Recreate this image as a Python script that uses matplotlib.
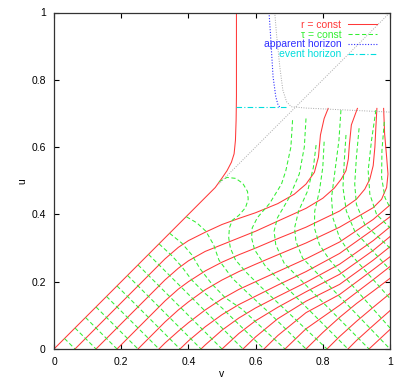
import matplotlib
matplotlib.use("Agg")
import matplotlib.pyplot as plt

# r = const curves, digitised (v, u) points, one list per curve
RED_V = [
    [0.0, 0.48, 0.50, 0.515, 0.528, 0.536, 0.540, 0.542, 0.543, 0.543],
    [0.0625, 0.33, 0.37, 0.40, 0.45, 0.50, 0.55, 0.60, 0.666, 0.715, 0.75, 0.775, 0.787, 0.793, 0.804, 0.816],
    [0.125, 0.33, 0.37, 0.40, 0.45, 0.50, 0.55, 0.60, 0.666, 0.75, 0.80, 0.834, 0.855, 0.869, 0.876, 0.879, 0.885, 0.903],
    [0.1875, 0.33, 0.37, 0.40, 0.45, 0.50, 0.55, 0.60, 0.666, 0.75, 0.85, 0.90, 0.925, 0.94, 0.95, 0.955, 0.958, 0.961],
    [0.25, 0.33, 0.37, 0.40, 0.45, 0.50, 0.55, 0.60, 0.666, 0.75, 0.85, 0.95, 0.975, 0.99, 0.994, 0.99, 0.984, 0.981],
    [0.3125, 0.33, 0.37, 0.40, 0.45, 0.50, 0.55, 0.60, 0.666, 0.75, 0.85, 0.95, 1.0],
    [0.375, 0.40, 0.45, 0.50, 0.55, 0.60, 0.666, 0.75, 0.85, 0.95, 1.0],
    [0.4375, 0.45, 0.50, 0.55, 0.60, 0.666, 0.75, 0.85, 0.95, 1.0],
    [0.5, 0.55, 0.60, 0.666, 0.75, 0.85, 0.95, 1.0],
    [0.5625, 0.60, 0.666, 0.75, 0.85, 0.95, 1.0],
    [0.625, 0.666, 0.75, 0.85, 0.95, 1.0],
    [0.6875, 0.75, 0.85, 0.95, 1.0],
    [0.75, 0.80, 0.85, 0.90, 0.95, 1.0],
    [0.8125, 0.85, 0.90, 0.95, 1.0],
    [0.875, 0.90, 0.95, 1.0],
    [0.9375, 1.0],
]
RED_U = [
    [0.0, 0.48, 0.508, 0.53, 0.555, 0.58, 0.62, 0.68, 0.75, 1.0],
    [0.0, 0.2675, 0.302, 0.322, 0.347, 0.37, 0.388, 0.405, 0.432, 0.46, 0.49, 0.525, 0.57, 0.636, 0.685, 0.715],
    [0.0, 0.205, 0.24, 0.262, 0.29, 0.31, 0.33, 0.35, 0.38, 0.418, 0.448, 0.478, 0.505, 0.53, 0.565, 0.606, 0.666, 0.715],
    [0.0, 0.1425, 0.178, 0.2, 0.232, 0.258, 0.28, 0.30, 0.328, 0.362, 0.41, 0.445, 0.475, 0.505, 0.545, 0.60, 0.66, 0.715],
    [0.0, 0.08, 0.116, 0.14, 0.176, 0.205, 0.23, 0.252, 0.28, 0.315, 0.362, 0.42, 0.445, 0.48, 0.52, 0.57, 0.64, 0.715],
    [0.0, 0.0175, 0.053, 0.078, 0.116, 0.149, 0.177, 0.2, 0.23, 0.268, 0.318, 0.385, 0.428],
    [0.0, 0.024, 0.066, 0.102, 0.132, 0.157, 0.19, 0.23, 0.284, 0.355, 0.393],
    [0.0, 0.012, 0.056, 0.092, 0.122, 0.156, 0.198, 0.252, 0.322, 0.363],
    [0.0, 0.046, 0.084, 0.124, 0.17, 0.222, 0.293, 0.334],
    [0.0, 0.036, 0.09, 0.142, 0.192, 0.264, 0.304],
    [0.0, 0.04, 0.108, 0.162, 0.236, 0.274],
    [0.0, 0.06, 0.13, 0.206, 0.245],
    [0.0, 0.049, 0.094, 0.135, 0.172, 0.21],
    [0.0, 0.037, 0.082, 0.124, 0.165],
    [0.0, 0.025, 0.07, 0.114],
    [0.0, 0.058],
]

# tau = const curves, digitised (v, u) points
GREEN_V = [
    [0.03125, 0.0625], [0.0625, 0.125], [0.09375, 0.1875], [0.125, 0.25],
    [0.15625, 0.3125], [0.1875, 0.375], [0.21875, 0.4375], [0.25, 0.5],
    [0.28125, 0.5625],
    [0.3125, 0.35, 0.38, 0.41, 0.45, 0.50, 0.625],
    [0.344, 0.38, 0.41, 0.435, 0.47, 0.51, 0.56, 0.6875],
    [0.394, 0.425, 0.452, 0.475, 0.491, 0.531, 0.575, 0.64, 0.75],
    [0.491, 0.515, 0.541, 0.562, 0.576, 0.578, 0.57, 0.55, 0.531, 0.522, 0.52, 0.525, 0.54, 0.57, 0.61, 0.8125],
    [0.71, 0.705, 0.69, 0.677, 0.642, 0.605, 0.59, 0.588, 0.597, 0.63, 0.875],
    [0.75, 0.745, 0.73, 0.70, 0.665, 0.655, 0.66, 0.685, 0.9375],
    [0.78, 0.772, 0.755, 0.728, 0.716, 0.72, 0.74, 1.0],
    [0.804, 0.80, 0.79, 0.776, 0.775, 0.79, 0.82, 1.0],
    [0.854, 0.848, 0.835, 0.826, 0.83, 0.85, 0.88, 1.0],
    [0.869, 0.864, 0.86, 0.87, 0.895, 1.0],
    [0.908, 0.90, 0.895, 0.90, 0.925, 1.0],
    [0.958, 0.945, 0.935, 0.94, 0.96, 1.0],
    [0.983, 0.976, 0.975, 0.985, 1.0],
]
GREEN_U = [
    [0.03125, 0.0], [0.0625, 0.0], [0.09375, 0.0], [0.125, 0.0],
    [0.15625, 0.0], [0.1875, 0.0], [0.21875, 0.0], [0.25, 0.0],
    [0.28125, 0.0],
    [0.3125, 0.278, 0.245, 0.205, 0.165, 0.122, 0.0],
    [0.344, 0.315, 0.28, 0.238, 0.193, 0.152, 0.118, 0.0],
    [0.393, 0.375, 0.35, 0.31, 0.264, 0.21, 0.168, 0.108, 0.0],
    [0.497, 0.51, 0.507, 0.492, 0.468, 0.445, 0.42, 0.397, 0.383, 0.36, 0.33, 0.30, 0.265, 0.23, 0.19, 0.0],
    [0.68, 0.6, 0.53, 0.49, 0.433, 0.39, 0.36, 0.33, 0.295, 0.245, 0.0],
    [0.685, 0.6, 0.52, 0.45, 0.39, 0.35, 0.31, 0.255, 0.0],
    [0.606, 0.54, 0.47, 0.41, 0.36, 0.32, 0.27, 0.0],
    [0.616, 0.54, 0.47, 0.41, 0.36, 0.31, 0.265, 0.0625],
    [0.71, 0.62, 0.52, 0.45, 0.39, 0.33, 0.285, 0.15],
    [0.636, 0.56, 0.48, 0.41, 0.35, 0.235],
    [0.656, 0.57, 0.49, 0.43, 0.37, 0.3],
    [0.71, 0.62, 0.53, 0.46, 0.40, 0.36],
    [0.675, 0.59, 0.51, 0.45, 0.42],
]

# horizons and the grey reference curves
AH_V = [0.640, 0.644, 0.647, 0.652, 0.660, 0.666, 0.672]
AH_U = [1.0, 0.94, 0.889, 0.809, 0.750, 0.728, 0.718]
EH_V = [0.543, 0.695]
EH_U = [0.718, 0.718]
GRAY_CURVE_V = [0.657, 0.662, 0.672, 0.681, 0.692, 0.706, 0.75, 1.0]
GRAY_CURVE_U = [1.0, 0.938, 0.839, 0.770, 0.735, 0.720, 0.716, 0.704]
GRAY_DIAG_V = [0.49, 1.0]
GRAY_DIAG_U = [0.49, 1.0]

TICKS = [0, 0.2, 0.4, 0.6, 0.8, 1]
TICK_LABELS = ["0", "0.2", "0.4", "0.6", "0.8", "1"]

plt.rcParams["font.family"] = ["Liberation Sans", "DejaVu Sans"]

fig = plt.figure(figsize=(4.08, 3.81), dpi=100)
ax = fig.add_axes([54 / 408, 32 / 381, 336 / 408, 336.5 / 381])

red = "#ff3838"
green = "#33ee33"
for i, (vs, us) in enumerate(zip(RED_V, RED_U)):
    ax.plot(vs, us, color=red, lw=0.75, label="r = const" if i == 0 else None)
for i, (vs, us) in enumerate(zip(GREEN_V, GREEN_U)):
    ax.plot(vs, us, color=green, lw=0.75, ls=(0, (4, 2.5)),
            label="\u03c4 = const" if i == 0 else None)
ax.plot(AH_V, AH_U, color="#3030ff", lw=0.8, ls=(0, (1, 1.5)), label="apparent horizon")
ax.plot(EH_V, EH_U, color="#00dddd", lw=0.8, ls=(0, (5, 2, 1, 2)), label="event horizon")
ax.plot(GRAY_CURVE_V, GRAY_CURVE_U, color="#a8a8a8", lw=0.7, ls=(0, (1, 1.5)))
ax.plot(GRAY_DIAG_V, GRAY_DIAG_U, color="#a8a8a8", lw=0.7, ls=(0, (1, 1.5)))

ax.set_xlim(0, 1)
ax.set_ylim(0, 1)
ax.set_xticks(TICKS)
ax.set_xticklabels(TICK_LABELS)
ax.set_yticks(TICKS)
ax.set_yticklabels(TICK_LABELS)
ax.tick_params(direction="in", top=True, right=True, length=3.5, width=0.8,
               labelsize=7.5, pad=6)
for s in ax.spines.values():
    s.set_linewidth(0.9)
    s.set_color("#333333")
ax.set_xlabel("v", fontsize=7.5, labelpad=1)
ax.set_ylabel("u", fontsize=7.5, labelpad=2.5, rotation=90)

ax.legend(loc="upper right", bbox_to_anchor=(1 - 6 / 336, 1.0), frameon=False,
          markerfirst=False, labelcolor="linecolor", fontsize=7.5,
          handlelength=2.8, handletextpad=0.6, labelspacing=-0.02, borderaxespad=0.3)

fig.savefig("out.png", dpi=100)
